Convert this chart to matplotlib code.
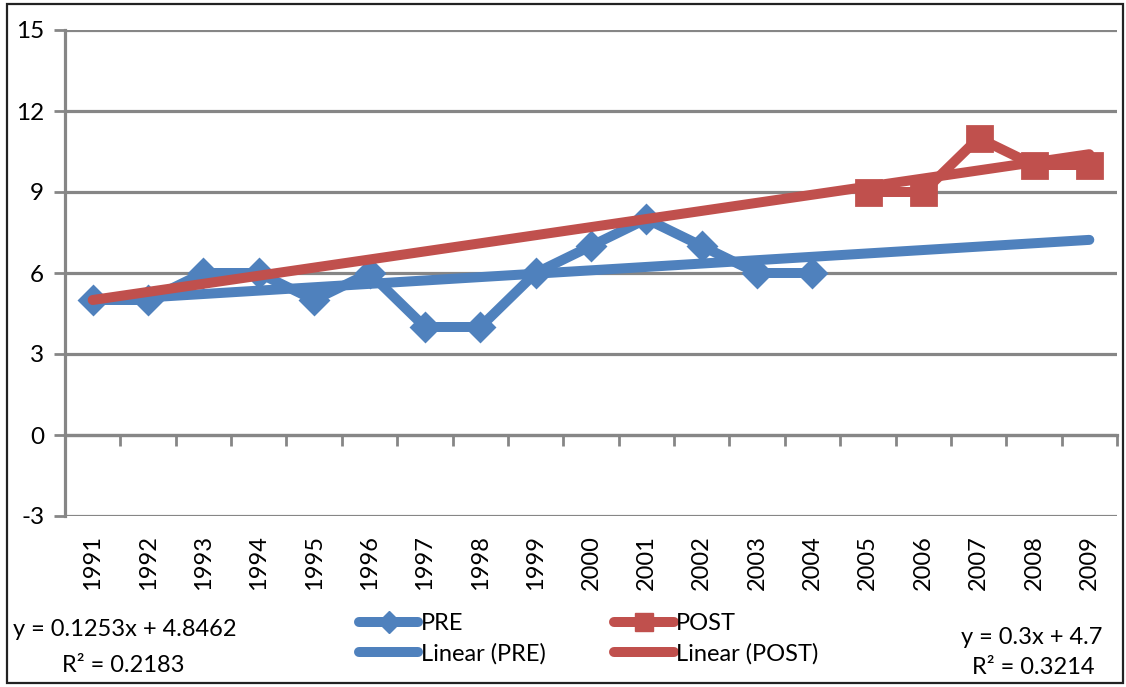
import matplotlib
matplotlib.use("Agg")
import matplotlib.pyplot as plt
import numpy as np
from matplotlib.patches import Rectangle
from matplotlib.lines import Line2D

plt.rcParams['font.family'] = ['Lato', 'DejaVu Sans']

years = [str(y) for y in range(1991, 2010)]
pre_years = years[:14]
pre_values = [5, 5, 6, 6, 5, 6, 4, 4, 6, 7, 8, 7, 6, 6]
post_years = years[14:]
post_values = [9, 9, 11, 10, 10]

pre_fit = (0.1253, 4.8462)   # slope, intercept
pre_r2 = 0.2183
post_fit = (0.3, 4.7)
post_r2 = 0.3214

y_ticks = [-3, 0, 3, 6, 9, 12, 15]

BLUE = "#4F81BD"
RED = "#C0504D"
GRID = "#868686"

W, H = 1126, 687
fig = plt.figure(figsize=(W / 100, H / 100), dpi=100)
ax = fig.add_axes([65 / W, 1 - 516 / H, (1117 - 65) / W, (516 - 30) / H])

idx = {y: i for i, y in enumerate(years)}
pre_x = [idx[y] for y in pre_years]
post_x = [idx[y] for y in post_years]

ax.plot(pre_x, pre_values, color=BLUE, lw=7.2, marker="D", markersize=14,
        markeredgewidth=2, solid_joinstyle="round", solid_capstyle="round",
        zorder=3, label="PRE")
ax.plot(post_x, post_values, color=RED, lw=7.2, marker="s", markersize=18,
        markeredgewidth=2, solid_joinstyle="round", solid_capstyle="round",
        zorder=3, label="POST")

xs = np.arange(len(years))
ax.plot(xs, pre_fit[0] * (xs + 1) + pre_fit[1], color=BLUE, lw=7.2,
        solid_capstyle="round", zorder=4, label="Linear (PRE)")
ax.plot(xs, post_fit[0] * (xs + 1) + post_fit[1], color=RED, lw=7.2,
        solid_capstyle="round", zorder=4, label="Linear (POST)")

ax.set_xlim(-0.5, len(years) - 0.5)
ax.set_ylim(-3, 15)
ax.set_yticks(y_ticks)
ax.set_yticklabels([str(v) for v in y_ticks], fontsize=17.5)
ax.yaxis.grid(True, color=GRID, lw=2.3)
ax.set_axisbelow(True)

for side in ("top", "right"):
    ax.spines[side].set_visible(False)
ax.spines["left"].set_color(GRID)
ax.spines["left"].set_linewidth(2.3)
ax.spines["bottom"].set_position(("data", 0))
ax.spines["bottom"].set_color(GRID)
ax.spines["bottom"].set_linewidth(2.3)

ax.set_xticks(np.arange(-0.5, len(years), 1.0))
ax.set_xticklabels([])
ax.tick_params(axis="x", direction="out", length=8, width=2, color=GRID)
ax.tick_params(axis="y", direction="out", length=8, width=2, color=GRID, pad=7)

for i, y in enumerate(years):
    ax.text(i, -0.039, y, transform=ax.get_xaxis_transform(), rotation=90,
            ha="center", va="top", fontsize=17)

handles = [
    Line2D([], [], color=BLUE, lw=7.2, marker="D", markersize=11, solid_capstyle="round"),
    Line2D([], [], color=BLUE, lw=7.2, solid_capstyle="round"),
    Line2D([], [], color=RED, lw=7.2, marker="s", markersize=13, solid_capstyle="round"),
    Line2D([], [], color=RED, lw=7.2, solid_capstyle="round"),
]
labels = ["PRE", "Linear (PRE)", "POST", "Linear (POST)"]
fig.legend(handles, labels, ncol=2, loc="center", bbox_to_anchor=(589 / W, 1 - 639 / H),
           frameon=False, fontsize=17, handlelength=2.5, handletextpad=0.12,
           columnspacing=2.9, labelspacing=0.38, numpoints=1, borderpad=0)

eq_size = 17
fig.text(125 / W, 1 - 630 / H, f"y = {pre_fit[0]}x + {pre_fit[1]}",
         ha="center", va="center", fontsize=eq_size)
fig.text(123 / W, 1 - 665 / H, f"R² = {pre_r2}",
         ha="center", va="center", fontsize=eq_size)
fig.text(1032 / W, 1 - 638 / H, f"y = {post_fit[0]}x + {post_fit[1]}",
         ha="center", va="center", fontsize=eq_size)
fig.text(1033 / W, 1 - 667 / H, f"R² = {post_r2}",
         ha="center", va="center", fontsize=eq_size)

fig.patches.append(Rectangle((7 / W, 4 / H), 1116 / W, 679 / H,
                             transform=fig.transFigure, fill=False,
                             edgecolor="#222222", lw=1.6))

fig.savefig("out.png", dpi=100)
